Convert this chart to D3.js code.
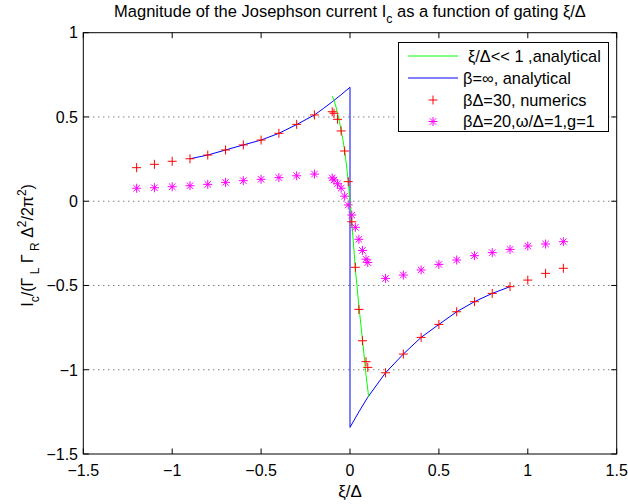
<!DOCTYPE html>
<html>
<head>
<meta charset="utf-8">
<script src="https://cdn.jsdelivr.net/npm/d3@7"></script>
<style>
  html, body { margin: 0; padding: 0; background: #fff; }
  svg { display: block; font-family: "Liberation Sans", Arial, Helvetica, sans-serif; }
</style>
</head>
<body>
<svg id="chart" width="628" height="504"></svg>
<script>
// ---- data ----
const xTicks = [-1.5, -1, -0.5, 0, 0.5, 1, 1.5];
const yTicks = [1, 0.5, 0, -0.5, -1, -1.5];
const gridY = [0.5, 0, -0.5, -1];

const greenX = [-0.1, -0.09, -0.08, -0.07, -0.06, -0.05, -0.04, -0.03, -0.02, -0.01, 0, 0.01, 0.02, 0.03, 0.05, 0.07, 0.09, 0.105];
const greenY = [0.624, 0.60, 0.565, 0.52, 0.475, 0.42, 0.365, 0.30, 0.215, 0.12, 0.005, -0.122, -0.26, -0.40, -0.62, -0.82, -1.03, -1.16];

const blueX = [-0.9, -0.8, -0.7, -0.6, -0.5, -0.4, -0.3, -0.2, -0.15, -0.1, -0.05, 0, 0, 0.05, 0.1, 0.2, 0.3, 0.4, 0.5, 0.6, 0.7, 0.8, 0.9];
const blueY = [0.252, 0.274, 0.304, 0.334, 0.363, 0.403, 0.455, 0.512, 0.55, 0.59, 0.632, 0.676, -1.342, -1.25, -1.163, -1.018, -0.907, -0.808, -0.731, -0.656, -0.596, -0.547, -0.507];

const numX = [-1.2, -1.1, -1.0, -0.9, -0.8, -0.7, -0.6, -0.5, -0.4, -0.3, -0.2, -0.1, -0.09, -0.07, -0.05, -0.03, -0.01,
              0.01, 0.03, 0.05, 0.07, 0.09, 0.1, 0.2, 0.3, 0.4, 0.5, 0.6, 0.7, 0.8, 0.9, 1.0, 1.1, 1.2];
const redY = [0.199, 0.219, 0.237, 0.252, 0.274, 0.304, 0.334, 0.363, 0.403, 0.456, 0.512, 0.531, 0.522, 0.486, 0.417, 0.298, 0.116,
              -0.122, -0.392, -0.642, -0.828, -0.952, -0.986, -1.018, -0.907, -0.808, -0.731, -0.656, -0.596, -0.547, -0.507, -0.468, -0.428, -0.398];
const magY = [0.077, 0.080, 0.086, 0.092, 0.100, 0.112, 0.122, 0.130, 0.140, 0.151, 0.161, 0.138, 0.126, 0.104, 0.077, 0.030, -0.022,
              -0.082, -0.155, -0.226, -0.292, -0.344, -0.364, -0.458, -0.438, -0.408, -0.375, -0.349, -0.323, -0.305, -0.286, -0.266, -0.254, -0.240];

const legendLabels = ["ξ/Δ<< 1 ,analytical", "β=∞, analytical", "βΔ=30, numerics", "βΔ=20,ω/Δ=1,g=1"];

// ---- layout ----
const L = 83.3, R = 616.7, T = 32.7, B = 454;
const x = d3.scaleLinear().domain([-1.5, 1.5]).range([L, R]);
const y = d3.scaleLinear().domain([-1.5, 1]).range([B, T]);
const svg = d3.select("#chart");
const FS = 16;

// grid
svg.append("g").selectAll("line").data(gridY).join("line")
  .attr("x1", L).attr("x2", R)
  .attr("y1", d => y(d)).attr("y2", d => y(d))
  .attr("stroke", "#444").attr("stroke-width", 1)
  .attr("stroke-dasharray", "1,4");

// lines
const line = d3.line().x(d => x(d[0])).y(d => y(d[1]));
svg.append("path").datum(blueX.map((v, i) => [v, blueY[i]]))
  .attr("d", line).attr("fill", "none").attr("stroke", "#0000ff").attr("stroke-width", 1);
svg.append("path").datum(greenX.map((v, i) => [v, greenY[i]]))
  .attr("d", line).attr("fill", "none").attr("stroke", "#00ff00").attr("stroke-width", 1);

// markers
const ms = 4.5;
function plus(g, cx, cy, col) {
  g.append("line").attr("x1", cx - ms).attr("x2", cx + ms).attr("y1", cy).attr("y2", cy).attr("stroke", col);
  g.append("line").attr("x1", cx).attr("x2", cx).attr("y1", cy - ms).attr("y2", cy + ms).attr("stroke", col);
}
function star(g, cx, cy, col) {
  plus(g, cx, cy, col);
  const d = ms * 0.72;
  g.append("line").attr("x1", cx - d).attr("x2", cx + d).attr("y1", cy - d).attr("y2", cy + d).attr("stroke", col);
  g.append("line").attr("x1", cx - d).attr("x2", cx + d).attr("y1", cy + d).attr("y2", cy - d).attr("stroke", col);
}
const gm = svg.append("g").attr("stroke-width", 1);
numX.forEach((v, i) => star(gm, x(v), y(magY[i]), "#ff00ff"));
const gr = svg.append("g").attr("stroke-width", 1);
numX.forEach((v, i) => plus(gr, x(v), y(redY[i]), "#ff0000"));

// axes box
svg.append("rect").attr("x", L).attr("y", T).attr("width", R - L).attr("height", B - T)
  .attr("fill", "none").attr("stroke", "#000").attr("stroke-width", 1);

const tl = 5.5;
const fmt = d => d3.format("")(d).replace("-", "−");
const gx = svg.append("g");
xTicks.forEach(t => {
  gx.append("line").attr("x1", x(t)).attr("x2", x(t)).attr("y1", B).attr("y2", B - tl).attr("stroke", "#000");
  gx.append("line").attr("x1", x(t)).attr("x2", x(t)).attr("y1", T).attr("y2", T + tl).attr("stroke", "#000");
  gx.append("text").attr("x", x(t)).attr("y", 476).attr("text-anchor", "middle")
    .attr("font-size", FS).text(fmt(t));
});
const gy = svg.append("g");
yTicks.forEach(t => {
  gy.append("line").attr("x1", L).attr("x2", L + tl).attr("y1", y(t)).attr("y2", y(t)).attr("stroke", "#000");
  gy.append("line").attr("x1", R).attr("x2", R - tl).attr("y1", y(t)).attr("y2", y(t)).attr("stroke", "#000");
  gy.append("text").attr("x", 78).attr("y", y(t)).attr("dy", "0.36em").attr("text-anchor", "end")
    .attr("font-size", FS).text(fmt(t));
});

// title (fitted to reference width)
const title = svg.append("text").attr("x", (L + R) / 2).attr("y", 16.5).attr("text-anchor", "middle").attr("font-size", 16);
title.append("tspan").text("Magnitude of the Josephson current I");
title.append("tspan").attr("font-size", 12).attr("dy", 6).text("c");
title.append("tspan").attr("dy", -6).text(" as a function of gating ξ/Δ");
{
  const w = title.node().getComputedTextLength();
  const f = 16 * 472 / w;
  title.attr("font-size", f);
  title.selectAll("tspan").filter((d, i) => i === 1).attr("font-size", f * 0.75);
}

// x label
svg.append("text").attr("x", (L + R) / 2).attr("y", 497).attr("text-anchor", "middle")
  .attr("font-size", 17).text("ξ/Δ");

// y label
const yl = svg.append("text").attr("transform", `translate(33,${(T + B) / 2 + 2}) rotate(-90)`)
  .attr("text-anchor", "middle").attr("font-size", 16);
yl.append("tspan").text("I");
yl.append("tspan").attr("font-size", 12).attr("dy", 6).text("c");
yl.append("tspan").attr("dy", -6).text("/(Γ");
yl.append("tspan").attr("font-size", 12).attr("dy", 6).text(" L");
yl.append("tspan").attr("dy", -6).text(" Γ");
yl.append("tspan").attr("font-size", 12).attr("dy", 6).text(" R");
yl.append("tspan").attr("dy", -6).text(" Δ");
yl.append("tspan").attr("font-size", 12).attr("dy", -7).text("2");
yl.append("tspan").attr("dy", 7).text("/2π");
yl.append("tspan").attr("font-size", 12).attr("dy", -7).text("2");
yl.append("tspan").attr("dy", 7).text(")");

// legend
const lg = svg.append("g");
lg.append("rect").attr("x", 398.5).attr("y", 42.5).attr("width", 210).attr("height", 89)
  .attr("fill", "#fff").attr("stroke", "#000").attr("stroke-width", 1);
const rowY = [56, 78, 100, 121.5];
lg.append("line").attr("x1", 408).attr("x2", 458).attr("y1", rowY[0]).attr("y2", rowY[0]).attr("stroke", "#00ff00");
lg.append("line").attr("x1", 408).attr("x2", 458).attr("y1", rowY[1]).attr("y2", rowY[1]).attr("stroke", "#0000ff");
plus(lg, 433, rowY[2], "#ff0000");
star(lg, 433, rowY[3], "#ff00ff");
const legTexts = legendLabels.map((s, i) =>
  lg.append("text").attr("x", i === 0 ? 468 : 463).attr("y", rowY[i]).attr("dy", "0.36em")
    .attr("font-size", FS).text(s));
{
  const w = legTexts[0].node().getComputedTextLength();
  const f = FS * 133 / w;
  legTexts.forEach(t => t.attr("font-size", f));
}
</script>
</body>
</html>
